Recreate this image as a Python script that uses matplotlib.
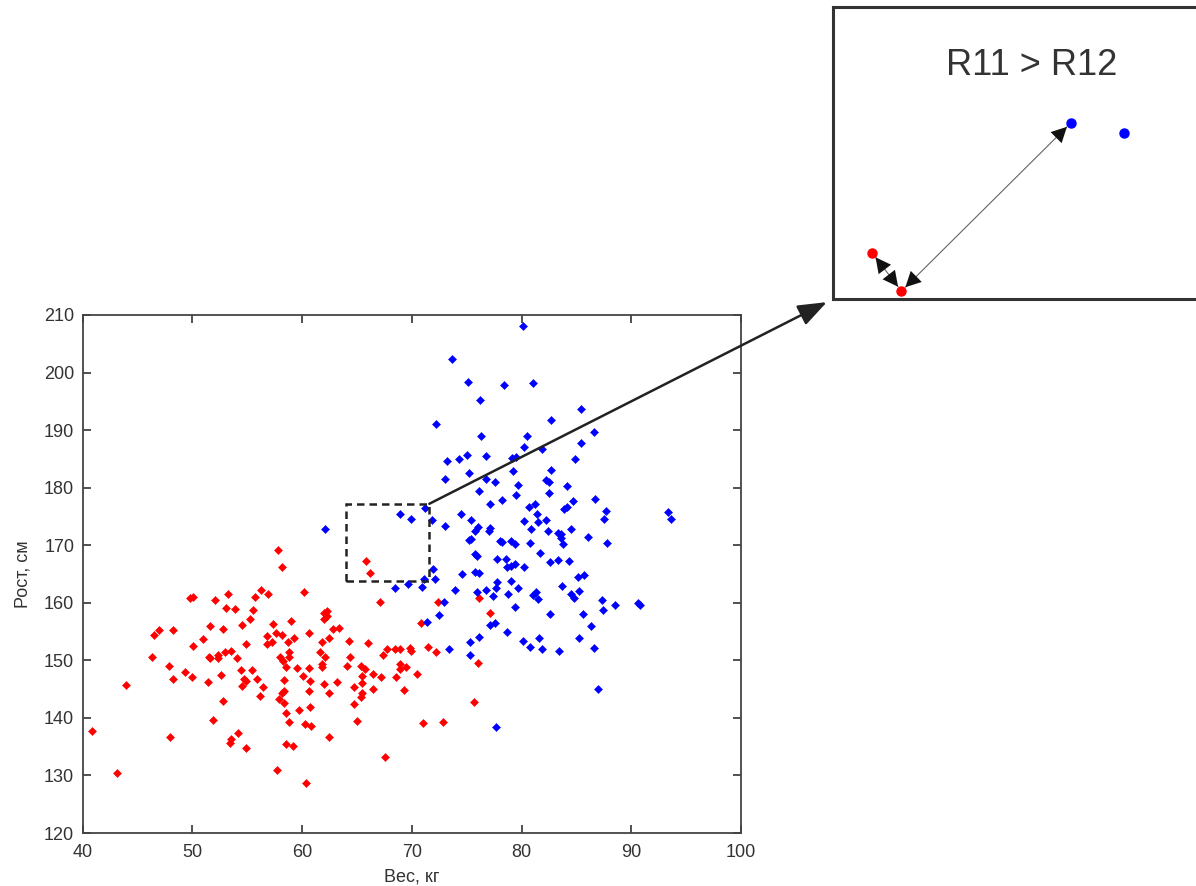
import numpy as np
from matplotlib import pyplot as plt
from matplotlib.patches import Rectangle, ConnectionPatch

# data: weight (kg) and height (cm), class 1 (red)
red_weight = [57.8, 58.2, 56.3, 56.9, 53.3, 49.8, 50.1, 52.1, 55.7, 53.1, 53.9, 55.5, 55.3,
              46.5, 47.0, 48.2, 51.6, 52.8, 54.5, 57.4, 59.0, 50.1, 51.0, 54.9, 56.8, 56.8,
              57.3, 57.6, 58.2, 58.7, 59.3, 46.3, 51.5, 51.6, 52.3, 52.3, 53.0, 53.5, 54.1,
              58.0, 58.3, 58.8, 58.8, 58.5, 59.5, 47.9, 49.3, 48.2, 50.0, 51.4, 52.6, 54.4,
              55.4, 54.7, 54.5, 54.9, 55.9, 56.4, 56.2, 52.8, 58.4, 58.4, 58.2, 57.9, 58.4,
              59.7, 58.5, 58.8, 44.0, 51.9, 40.9, 48.0, 54.2, 53.5, 53.4, 54.9, 58.5, 59.2,
              57.7, 43.1, 65.8, 66.2, 60.2, 67.1, 72.4, 70.8, 62.0, 62.3, 62.0, 62.3, 62.8,
              63.4, 60.6, 62.5, 61.8, 64.3, 66.0, 67.7, 68.5, 68.9, 69.8, 69.9, 71.5, 72.2,
              67.4, 61.6, 62.1, 61.8, 61.8, 64.4, 64.1, 65.4, 65.7, 68.9, 68.9, 69.5, 60.6,
              60.1, 60.7, 66.5, 67.2, 65.5, 65.5, 68.6, 70.5, 62.0, 63.2, 64.7, 60.6, 62.5,
              66.5, 69.3, 65.5, 65.4, 64.7, 60.7, 60.3, 60.8, 65.0, 71.0, 72.8, 75.7, 76.0,
              62.5, 67.6, 60.4, 76.1, 77.1]
red_height = [169.1, 166.2, 162.3, 161.5, 161.5, 160.9, 161.0, 160.4, 161.0, 159.1, 158.9,
              158.7, 157.2, 154.4, 155.2, 155.2, 156.0, 155.4, 156.2, 156.3, 156.8, 152.5,
              153.7, 152.8, 154.2, 152.8, 153.1, 154.7, 154.4, 153.1, 153.8, 150.6, 150.6,
              150.4, 151.0, 150.4, 151.5, 151.7, 150.4, 150.5, 149.9, 151.4, 150.6, 148.9,
              148.6, 149.1, 148.0, 146.7, 147.1, 146.2, 147.5, 148.3, 148.3, 146.7, 145.6,
              146.4, 146.7, 145.4, 143.8, 143.0, 146.5, 144.7, 144.4, 143.2, 142.6, 141.3,
              140.9, 139.3, 145.7, 139.6, 137.8, 136.7, 137.3, 136.4, 135.6, 134.8, 135.4,
              135.1, 130.9, 130.4, 167.3, 165.2, 161.8, 160.2, 160.2, 156.4, 158.2, 157.7,
              157.2, 158.6, 155.4, 155.7, 154.7, 153.8, 153.1, 153.3, 153.0, 152.0, 152.0,
              152.0, 152.2, 151.7, 152.3, 151.5, 150.9, 151.5, 150.5, 149.4, 148.9, 150.5,
              149.1, 149.1, 148.5, 149.3, 148.5, 148.9, 148.6, 147.3, 146.4, 147.6, 147.1,
              147.3, 146.1, 147.1, 147.6, 145.9, 146.2, 145.4, 144.6, 144.4, 145.1, 144.9,
              144.4, 143.7, 142.5, 141.9, 138.9, 138.6, 139.4, 139.1, 139.3, 142.8, 149.6,
              136.6, 133.2, 128.7, 160.9, 158.3]

# data: class 2 (blue)
blue_weight = [62.1, 68.5, 69.7, 70.9, 71.9, 72.1, 71.1, 73.0, 74.6, 73.9, 72.9, 72.5, 71.4,
               73.4, 75.3, 75.3, 76.1, 75.9, 80.1, 73.7, 75.1, 78.4, 81.0, 76.2, 85.4, 82.7,
               72.2, 86.6, 76.3, 80.5, 80.2, 81.9, 85.4, 75.0, 74.3, 73.2, 76.8, 79.1, 79.5,
               84.9, 79.2, 75.2, 82.7, 73.0, 76.8, 77.6, 82.2, 82.5, 79.7, 84.1, 76.1, 79.5,
               82.5, 78.2, 77.1, 80.7, 81.2, 84.7, 83.9, 84.1, 86.7, 71.2, 74.5, 75.4, 81.4,
               81.5, 82.2, 80.2, 68.9, 69.9, 71.8, 76.0, 75.8, 75.4, 75.2, 77.1, 77.0, 80.9,
               82.4, 83.3, 83.6, 83.6, 83.8, 84.5, 86.1, 78.0, 78.2, 79.0, 79.4, 80.8, 81.7,
               75.8, 75.9, 77.8, 78.6, 78.7, 79.4, 80.2, 82.6, 83.3, 84.3, 87.7, 87.5, 93.3,
               93.6, 87.8, 75.8, 76.1, 79.0, 76.8, 77.8, 77.7, 79.0, 77.4, 78.8, 79.7, 81.3,
               81.0, 81.5, 83.7, 85.1, 85.7, 85.2, 84.5, 84.8, 87.3, 87.4, 88.5, 90.6, 90.8,
               79.4, 82.6, 85.6, 86.3, 77.1, 77.6, 78.7, 80.1, 81.6, 80.8, 81.9, 83.4, 85.2,
               86.6, 87.0, 77.7]
blue_height = [172.8, 162.5, 163.3, 162.8, 165.9, 164.1, 164.1, 173.4, 165.0, 162.2, 160.2,
               157.8, 156.7, 152.0, 153.1, 150.9, 154.1, 161.8, 208.1, 202.4, 198.4, 197.8,
               198.1, 195.2, 193.6, 191.8, 191.0, 189.6, 188.9, 188.9, 187.1, 186.7, 187.8,
               185.7, 185.0, 184.7, 185.5, 185.2, 185.3, 185.0, 182.9, 182.6, 183.1, 181.5,
               181.5, 180.9, 181.3, 181.0, 180.5, 180.3, 179.4, 178.7, 179.0, 177.8, 177.1,
               176.7, 177.1, 177.7, 176.3, 176.6, 178.1, 176.5, 175.5, 174.4, 175.5, 174.1,
               174.4, 174.2, 175.4, 174.5, 174.4, 173.1, 172.4, 171.0, 170.9, 173.0, 172.5,
               172.9, 172.4, 172.2, 172.0, 171.3, 170.2, 172.9, 171.5, 170.8, 170.5, 170.8,
               170.2, 170.3, 168.6, 168.5, 168.1, 167.6, 167.6, 166.3, 166.7, 166.3, 167.1,
               167.4, 167.3, 176.0, 174.6, 175.8, 174.6, 170.4, 165.4, 165.1, 166.4, 162.2,
               163.6, 162.5, 163.8, 161.2, 161.5, 162.5, 161.9, 161.4, 160.7, 163.0, 164.4,
               164.9, 162.0, 161.5, 160.9, 160.4, 158.8, 159.6, 159.9, 159.7, 159.3, 158.1,
               158.0, 155.9, 156.2, 156.5, 154.9, 153.3, 153.8, 152.3, 152.0, 151.7, 153.8,
               152.2, 145.1, 138.5]

# zoomed region (dashed box) in data units
zoom_x = [64.0, 71.6]
zoom_y = [163.8, 177.2]

# inset schematic points (axes fraction)
inset_red_x = [0.107, 0.187]
inset_red_y = [0.158, 0.027]
inset_blue_x = [0.650, 0.796]
inset_blue_y = [0.603, 0.568]

x_ticks = np.arange(40, 101, 10)
y_ticks = np.arange(120, 211, 10)

plt.rcParams['font.family'] = ['Liberation Sans', 'DejaVu Sans']

fig = plt.figure(figsize=(11.96, 8.86), dpi=100)

# main scatter axes
ax = fig.add_axes([0.069, 0.0598, 0.5506, 0.5847])
ax.plot(red_weight, red_height, linestyle='none', marker='D', ms=4.3,
        color='#ff0000', mec='#ff0000', mew=0.4)
ax.plot(blue_weight, blue_height, linestyle='none', marker='D', ms=4.3,
        color='#0000ff', mec='#0000ff', mew=0.4)

ax.set_xlim(40, 100)
ax.set_ylim(120, 210)
ax.set_xticks(x_ticks)
ax.set_yticks(y_ticks)
ax.tick_params(direction='in', top=True, right=True, length=6, width=1.2,
               color='#333333', labelsize=13, labelcolor='#333333', pad=6)
ax.tick_params(axis='x', pad=8)
for sp in ax.spines.values():
    sp.set_color('#444444')
    sp.set_linewidth(1.3)
ax.set_xlabel('Вес, кг', fontsize=13, color='#333333', labelpad=5)
ax.set_ylabel('Рост, см', fontsize=13, color='#333333', labelpad=9)

# dashed box around zoomed region
ax.add_patch(Rectangle((zoom_x[0], zoom_y[0]), zoom_x[1] - zoom_x[0], zoom_y[1] - zoom_y[0],
                       fill=False, edgecolor='#222222', linestyle=(0, (3, 2)),
                       linewidth=1.8, zorder=5))

# inset with schematic distances
ins = fig.add_axes([833 / 1196, 1 - 299 / 886, 366 / 1196, 292 / 886])
ins.set_xlim(0, 1)
ins.set_ylim(0, 1)
ins.set_xticks([])
ins.set_yticks([])
for sp in ins.spines.values():
    sp.set_color('#333333')
    sp.set_linewidth(2.2)
ins.text(0.543, 0.80, 'R11 > R12', fontsize=26, color='#333333', ha='center', va='center')
ins.plot(inset_red_x, inset_red_y, linestyle='none', marker='o', ms=6.5, color='#ff0000')
ins.plot(inset_blue_x, inset_blue_y, linestyle='none', marker='o', ms=6.5, color='#0000ff')

# distance arrows
pairs = [((inset_red_x[0], inset_red_y[0]), (inset_red_x[1], inset_red_y[1])),
         ((inset_red_x[1], inset_red_y[1]), (inset_blue_x[0], inset_blue_y[0]))]
for a, b in pairs:
    ins.annotate('', xy=b, xytext=a,
                 arrowprops=dict(arrowstyle='-', color='#666666', lw=0.8,
                                 shrinkA=4, shrinkB=4))
    ins.annotate('', xy=b, xytext=a,
                 arrowprops=dict(arrowstyle='<|-|>,head_length=0.55,head_width=0.28',
                                 color='#111111', lw=0.01, mutation_scale=20,
                                 shrinkA=4, shrinkB=4))

# arrow from dashed box to inset
con = ConnectionPatch(xyA=(zoom_x[1], zoom_y[1]), coordsA=ax.transData,
                      xyB=(0, 0), coordsB=ins.transAxes,
                      arrowstyle='-|>,head_length=0.8,head_width=0.3',
                      mutation_scale=22, color='#222222', lw=1.8,
                      shrinkA=0, shrinkB=5)
fig.add_artist(con)

plt.savefig('out.png', dpi=100)
